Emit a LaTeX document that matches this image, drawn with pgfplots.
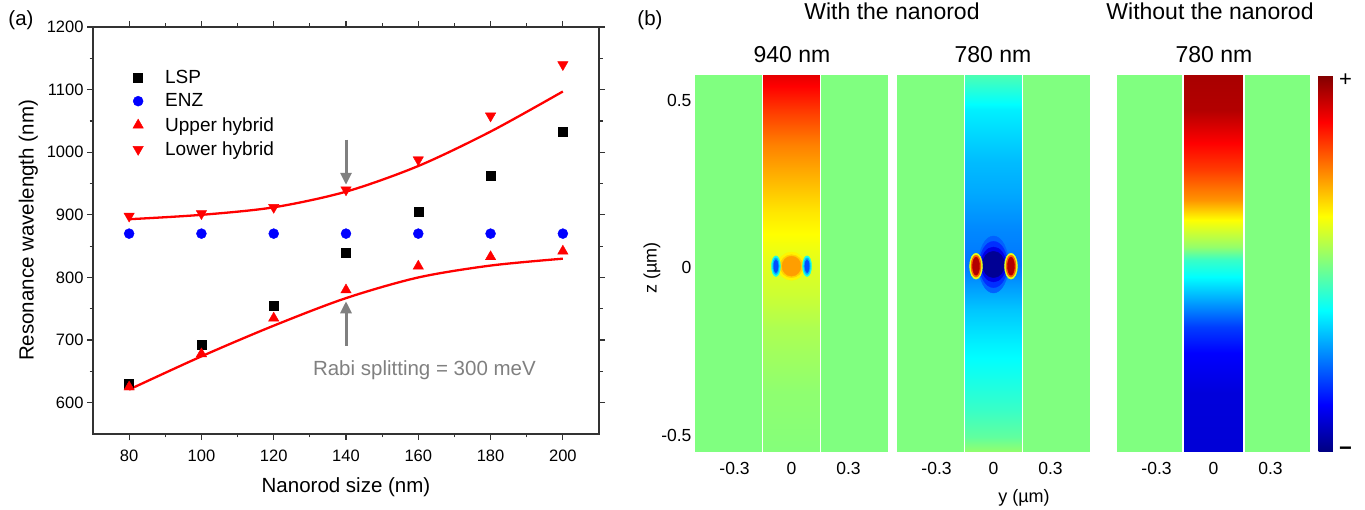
\documentclass[border=0pt]{standalone}
\usepackage{fontspec}
\setmainfont{Liberation Sans}
\setsansfont{Liberation Sans}
\usepackage{pgfplots}
\pgfplotsset{compat=1.18}
\usetikzlibrary{arrows.meta}

\definecolor{jetmid}{RGB}{128,255,128}
\definecolor{annogray}{RGB}{128,128,128}
\newcommand{\fs}[1]{\fontsize{#1pt}{#1pt}\selectfont}

\pgfplotsset{
  mapax/.style={
    scale only axis, width=193pt, height=377pt,
    xmin=-0.508, xmax=0.508, ymin=-0.55, ymax=0.576,
    axis line style={draw=none}, major tick length=0pt,
    xtick={-0.3,0,0.3}, xticklabels={-0.3,0,0.3},
    ytick=\empty,
    tick label style={font=\fs{17.5}},
    xticklabel style={yshift=-7pt},
    point meta min=0, point meta max=1,
    colormap/jet,
    axis background/.style={fill=jetmid},
  },
  blob/.style n args={2}{scatter, only marks, mark=*, mark size=#1,
    mark options={yscale=#2}, point meta=explicit,
    scatter/use mapped color={draw=mapped color, fill=mapped color}},
  rod/.style={white, line width=1.5pt, forget plot},
}

\begin{document}
\begin{tikzpicture}
\useasboundingbox (0pt,0pt) rectangle (1365pt,510pt);

% ---------- (a) resonance wavelengths ----------
\begin{axis}[
  at={(93pt,76pt)}, anchor=south west, scale only axis,
  width=506pt, height=407pt,
  xmin=70, xmax=210, ymin=550, ymax=1200,
  xtick={80,100,...,200}, ytick={600,700,...,1200},
  minor x tick num=1, minor y tick num=1,
  tick align=outside, xtick pos=both, ytick pos=both,
  major tick length=6pt, minor tick length=3.5pt,
  axis line style={line width=1.3pt, black!80},
  every tick/.style={line width=1.2pt, black!80},
  tick label style={font=\fs{16.5}},
  xticklabel style={yshift=-6pt},
  /pgf/number format/assume math mode=true,
  /pgf/number format/1000 sep={},
  xlabel={Nanorod size (nm)}, ylabel={Resonance wavelength (nm)},
  label style={font=\fs{20.5}},
  xlabel style={at={(axis description cs:0.5,-0.130)}, anchor=center},
  ylabel style={at={(axis description cs:-0.128,0.5)}, anchor=center},
  legend style={at={(axis description cs:0.077,0.897)}, anchor=north west,
    draw=none, fill=none, inner sep=0pt, font=\fs{19}, row sep=7pt,
    nodes={inner sep=1pt}},
  legend cell align=left,
  legend image code/.code={\path[draw=none,fill=none] (-6pt,-5pt) rectangle (26pt,5pt);
    \draw[mark repeat=2,mark phase=2,#1] plot coordinates {(-1pt,0pt) (0pt,0pt) (1pt,0pt)};},
]
% fits
\addplot[red, line width=2.3pt, smooth, forget plot] coordinates {
  (80,621) (100,674) (120,723) (140,767) (160,800) (180,819) (200,830)};
\addplot[red, line width=2.3pt, smooth, forget plot] coordinates {
  (80,893) (100,900) (120,912) (140,937) (160,978) (180,1033) (200,1097)};
% data
\addplot[only marks, mark=square*, mark size=4.5pt, black] coordinates {
  (80,630) (100,692) (120,755) (140,840) (160,905) (180,962) (200,1032)};
\addplot[only marks, mark=*, mark size=5pt, blue] coordinates {
  (80,870) (100,870) (120,870) (140,870) (160,870) (180,870) (200,870)};
\addplot[only marks, mark=triangle*, mark size=6pt, red] coordinates {
  (80,625) (100,678) (120,735) (140,780) (160,818) (180,833) (200,842)};
\addplot[only marks, mark=triangle*, mark size=6pt, red, mark options={rotate=180}] coordinates {
  (80,898) (100,902) (120,912) (140,940) (160,988) (180,1058) (200,1140)};
\legend{LSP, ENZ, Upper hybrid, Lower hybrid}
% arrows
\addplot[annogray, line width=3pt, -{Triangle[length=12pt,width=11pt]}, forget plot]
  coordinates {(140,1020) (140,948)};
\addplot[annogray, line width=3pt, -{Triangle[length=12pt,width=11pt]}, forget plot]
  coordinates {(140,691) (140,762)};
\node[anchor=base, text=annogray, font=\fs{20.5}] at (axis cs:161.7,643) {Rabi splitting = 300 meV};
\end{axis}

% ---------- (b) field maps ----------
\begin{axis}[mapax, at={(695pt,58pt)}, anchor=south west,
  ytick={-0.5,0,0.5}, yticklabels={-0.5,0,0.5}]
\addplot[surf, shader=interp, mesh/cols=2, point meta=explicit] coordinates {
  (-0.153,-0.55) [0.505] (0.153,-0.55) [0.505]
  (-0.153,-0.37) [0.515] (0.153,-0.37) [0.515]
  (-0.153,-0.18) [0.545] (0.153,-0.18) [0.545]
  (-0.153,-0.08) [0.575] (0.153,-0.08) [0.575]
  (-0.153,0.03) [0.60] (0.153,0.03) [0.60]
  (-0.153,0.10) [0.625] (0.153,0.10) [0.625]
  (-0.153,0.17) [0.65] (0.153,0.17) [0.65]
  (-0.153,0.27) [0.70] (0.153,0.27) [0.70]
  (-0.153,0.37) [0.75] (0.153,0.37) [0.75]
  (-0.153,0.47) [0.82] (0.153,0.47) [0.82]
  (-0.153,0.576) [0.90] (0.153,0.576) [0.90]
};
\addplot[blob={14}{1.0}] coordinates {(0,0.005) [0.635]};
\addplot[blob={11.5}{1.0}] coordinates {(0,0.005) [0.67]};
\addplot[blob={9.5}{1.05}] coordinates {(0,0.005) [0.72]};
\addplot[blob={4.5}{2.3}] coordinates {(-0.082,0.005) [0.4] (0.082,0.005) [0.4]};
\addplot[blob={3.2}{2.6}] coordinates {(-0.082,0.005) [0.3] (0.082,0.005) [0.3]};
\addplot[blob={2.2}{3.0}] coordinates {(-0.082,0.005) [0.2] (0.082,0.005) [0.2]};
\addplot[rod] coordinates {(-0.153,-0.55) (-0.153,0.576)};
\addplot[rod] coordinates {(0.153,-0.55) (0.153,0.576)};
\end{axis}

\begin{axis}[mapax, at={(897pt,58pt)}, anchor=south west]
\addplot[surf, shader=interp, mesh/cols=2, point meta=explicit] coordinates {
  (-0.153,-0.55) [0.52] (0.153,-0.55) [0.52]
  (-0.153,-0.504) [0.47] (0.153,-0.504) [0.47]
  (-0.153,-0.424) [0.43] (0.153,-0.424) [0.43]
  (-0.153,-0.325) [0.395] (0.153,-0.325) [0.395]
  (-0.153,-0.224) [0.36] (0.153,-0.224) [0.36]
  (-0.153,-0.125) [0.32] (0.153,-0.125) [0.32]
  (-0.153,0.01) [0.24] (0.153,0.01) [0.24]
  (-0.153,0.12) [0.26] (0.153,0.12) [0.26]
  (-0.153,0.22) [0.29] (0.153,0.22) [0.29]
  (-0.153,0.32) [0.31] (0.153,0.32) [0.31]
  (-0.153,0.47) [0.36] (0.153,0.47) [0.36]
  (-0.153,0.576) [0.45] (0.153,0.576) [0.45]
};
\addplot[blob={15}{1.9}] coordinates {(0,0.01) [0.22]};
\addplot[blob={14}{1.65}] coordinates {(0,0.01) [0.17]};
\addplot[blob={12.5}{1.4}] coordinates {(0,0.01) [0.1]};
\addplot[blob={11}{1.2}] coordinates {(0,0.01) [0.02]};
\addplot[blob={6.5}{2.0}] coordinates {(-0.092,0.005) [0.6] (0.092,0.005) [0.6]};
\addplot[blob={5}{2.2}] coordinates {(-0.092,0.005) [0.78] (0.092,0.005) [0.78]};
\addplot[blob={3.5}{2.6}] coordinates {(-0.092,0.005) [0.95] (0.092,0.005) [0.95]};
\addplot[rod] coordinates {(-0.153,-0.55) (-0.153,0.576)};
\addplot[rod] coordinates {(0.153,-0.55) (0.153,0.576)};
\end{axis}

\begin{axis}[mapax, at={(1117pt,58pt)}, anchor=south west,
  colorbar,
  colorbar style={at={(parent axis.north east)}, anchor=north west, xshift=0pt,
    width=18pt, ytick=\empty, xtick=\empty, axis line style={draw=none}}]
\addplot[surf, shader=interp, mesh/cols=2, point meta=explicit] coordinates {
  (-0.16,-0.55) [0.085] (0.16,-0.55) [0.085]
  (-0.16,-0.373) [0.09] (0.16,-0.373) [0.09]
  (-0.16,-0.254) [0.125] (0.16,-0.254) [0.125]
  (-0.16,-0.176) [0.185] (0.16,-0.176) [0.185]
  (-0.16,-0.096) [0.29] (0.16,-0.096) [0.29]
  (-0.16,-0.027) [0.375] (0.16,-0.027) [0.375]
  (-0.16,0.024) [0.43] (0.16,0.024) [0.43]
  (-0.16,0.063) [0.52] (0.16,0.063) [0.52]
  (-0.16,0.143) [0.625] (0.16,0.143) [0.625]
  (-0.16,0.203) [0.73] (0.16,0.203) [0.73]
  (-0.16,0.293) [0.816] (0.16,0.293) [0.816]
  (-0.16,0.373) [0.875] (0.16,0.373) [0.875]
  (-0.16,0.47) [0.95] (0.16,0.47) [0.95]
  (-0.16,0.576) [0.96] (0.16,0.576) [0.96]
};
\addplot[rod] coordinates {(-0.16,-0.55) (-0.16,0.576)};
\addplot[rod] coordinates {(0.16,-0.55) (0.16,0.576)};
\end{axis}

% ---------- annotations ----------
\node[anchor=base, font=\fs{20.5}] at (21pt,484pt) {(a)};
\node[anchor=base, font=\fs{20.5}] at (650pt,484pt) {(b)};
\node[anchor=base, font=\fs{23}] at (892pt,490pt) {With the nanorod};
\node[anchor=base, font=\fs{23}] at (1210pt,490pt) {Without the nanorod};
\node[anchor=base, font=\fs{23}] at (792pt,447pt) {940 nm};
\node[anchor=base, font=\fs{23}] at (993pt,447pt) {780 nm};
\node[anchor=base, font=\fs{23}] at (1214pt,447pt) {780 nm};
\node[rotate=90, font=\fs{18}] at (652pt,242pt) {z (µm)};
\node[font=\fs{18}] at (1024pt,12pt) {y (µm)};
\node[font=\fs{22}] at (1345.5pt,430pt) {+};
\node[font=\bfseries\fs{22}] at (1345.5pt,58.7pt) {−};
\end{tikzpicture}
\end{document}
